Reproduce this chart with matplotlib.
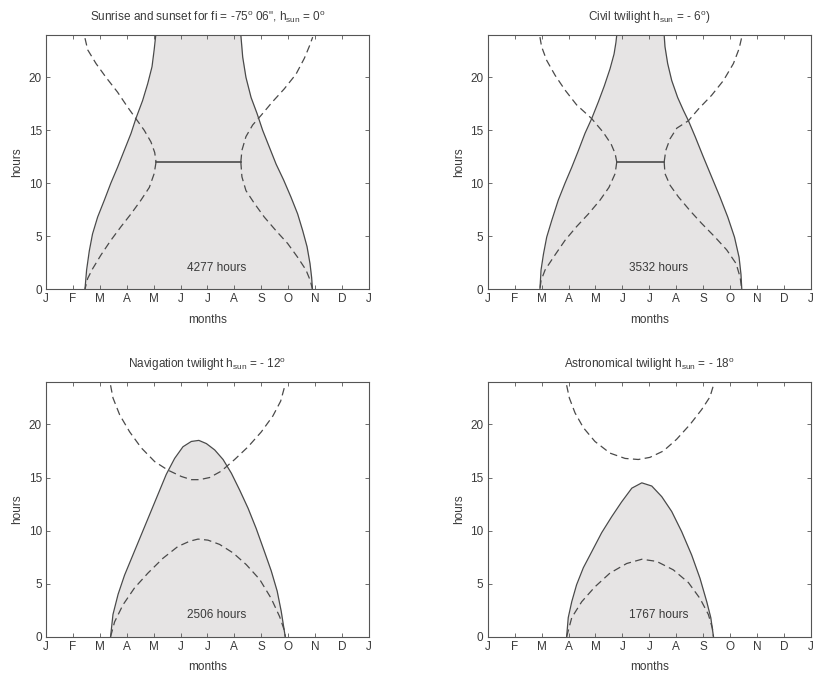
import numpy as np
import matplotlib
matplotlib.use("Agg")
import matplotlib.pyplot as plt

plt.rcParams['font.family'] = ['Liberation Sans', 'DejaVu Sans']
plt.rcParams['font.size'] = 8.5
plt.rcParams['mathtext.fontset'] = 'custom'
plt.rcParams['mathtext.rm'] = 'Liberation Sans'

month_labels = ['J', 'F', 'M', 'A', 'M', 'J', 'J', 'A', 'S', 'O', 'N', 'D', 'J']

# Panel 1: h_sun = 0  (x in months from 1 Jan, y in hours)
p1_title = 'Sunrise and sunset for fi = -75$^\\mathrm{o}$ 06", h$_\\mathrm{sun}$ = 0$^\\mathrm{o}$'
p1_total = '4277 hours'
p1_day_x = [1.45, 1.51, 1.61, 1.73, 1.92, 2.17, 2.41, 2.66, 2.91, 3.16, 3.34, 3.59, 3.78, 3.94, 4.02, 4.08,
            7.24, 7.31, 7.43, 7.62, 7.84, 8.05, 8.30, 8.55, 8.83, 9.10, 9.35, 9.54, 9.70, 9.81, 9.87, 9.90]
p1_day_y = [0, 1.8, 3.6, 5.2, 6.8, 8.4, 10.0, 11.5, 13.1, 14.7, 16.1, 17.8, 19.4, 21.0, 22.6, 24,
            24, 21.9, 20.0, 18.1, 16.6, 15.0, 13.4, 11.8, 10.3, 8.7, 7.1, 5.5, 4.0, 2.4, 1.1, 0]
p1_set_x = [1.45, 1.55, 1.86, 2.23, 2.66, 3.03, 3.34, 3.65, 3.90, 4.04, 4.09]
p1_set_y = [23.7, 22.6, 21.3, 20.0, 18.6, 17.2, 16.1, 15.0, 13.9, 12.9, 12.0]
p1_rise_x = [4.09, 4.02, 3.84, 3.53, 3.16, 2.79, 2.41, 2.04, 1.73, 1.55, 1.45]
p1_rise_y = [12.0, 10.9, 9.6, 8.4, 7.1, 5.9, 4.6, 3.2, 1.9, 1.0, 0]
p1_set2_x = [7.24, 7.28, 7.43, 7.68, 7.99, 8.42, 8.85, 9.29, 9.60, 9.78, 9.91]
p1_set2_y = [12.0, 13.1, 14.4, 15.5, 16.4, 17.7, 18.9, 20.3, 21.8, 22.9, 23.8]
p1_rise2_x = [7.24, 7.28, 7.43, 7.74, 8.11, 8.55, 8.98, 9.35, 9.66, 9.82, 9.90]
p1_rise2_y = [12.0, 10.6, 9.3, 8.1, 6.8, 5.5, 4.3, 3.0, 1.8, 0.8, 0]
p1_flat_x = [4.09, 7.24]
p1_flat_y = [12, 12]

# Panel 2: civil twilight
p2_title = 'Civil twilight h$_\\mathrm{sun}$ = - 6$^\\mathrm{o}$)'
p2_total = '3532 hours'
p2_day_x = [1.94, 1.98, 2.07, 2.19, 2.38, 2.62, 2.87, 3.12, 3.37, 3.61, 3.86, 4.11, 4.33, 4.54, 4.69, 4.76, 4.79,
            6.55, 6.58, 6.68, 6.83, 7.05, 7.26, 7.45, 7.70, 8.00, 8.31, 8.62, 8.91, 9.16, 9.33, 9.40, 9.43]
p2_day_y = [0, 1.8, 3.3, 4.9, 6.5, 8.4, 10.0, 11.5, 13.1, 14.7, 16.1, 17.7, 19.2, 20.8, 22.2, 23.3, 24,
            24, 22.9, 21.3, 19.7, 18.1, 16.9, 15.9, 14.4, 12.5, 10.6, 8.7, 6.8, 4.9, 3.0, 1.4, 0]
p2_set_x = [1.94, 2.00, 2.19, 2.50, 2.87, 3.30, 3.86, 4.29, 4.58, 4.73, 4.79]
p2_set_y = [23.8, 22.9, 21.6, 20.2, 18.8, 17.4, 16.1, 14.8, 13.7, 12.8, 12.0]
p2_rise_x = [4.79, 4.73, 4.50, 4.17, 3.74, 3.30, 2.87, 2.44, 2.13, 1.98, 1.94]
p2_rise_y = [12.0, 10.9, 9.6, 8.4, 7.1, 5.9, 4.6, 3.0, 1.8, 0.8, 0]
p2_set2_x = [6.55, 6.61, 6.77, 7.02, 7.45, 7.82, 8.31, 8.75, 9.12, 9.33, 9.43]
p2_set2_y = [12.0, 13.1, 14.2, 15.2, 15.9, 17.0, 18.3, 19.7, 21.3, 22.7, 23.8]
p2_rise2_x = [6.55, 6.58, 6.77, 7.08, 7.51, 7.94, 8.44, 8.87, 9.22, 9.37, 9.43]
p2_rise2_y = [12.0, 10.9, 9.8, 8.7, 7.4, 6.2, 4.9, 3.7, 2.4, 1.1, 0]
p2_flat_x = [4.79, 6.55]
p2_flat_y = [12, 12]

# Panel 3: navigation twilight
p3_title = 'Navigation twilight h$_\\mathrm{sun}$ = - 12$^\\mathrm{o}$'
p3_total = '2506 hours'
p3_day_x = [2.40, 2.49, 2.68, 2.92, 3.23, 3.54, 3.85, 4.16, 4.47, 4.78, 5.09, 5.40, 5.68,
            5.96, 6.27, 6.58, 6.89, 7.20, 7.51, 7.81, 8.12, 8.37, 8.59, 8.74, 8.84, 8.89]
p3_day_y = [0, 2.1, 4.0, 5.8, 7.7, 9.6, 11.5, 13.4, 15.3, 16.8, 17.9, 18.4, 18.5,
            18.2, 17.6, 16.7, 15.4, 13.8, 12.1, 10.2, 8.0, 6.2, 4.3, 2.4, 0.8, 0]
p3_up_x = [2.40, 2.49, 2.74, 3.11, 3.54, 4.04, 4.53, 5.03, 5.40, 5.71,
           6.08, 6.51, 7.01, 7.51, 8.00, 8.43, 8.72, 8.87]
p3_up_y = [23.7, 22.5, 20.9, 19.3, 17.8, 16.5, 15.7, 15.1, 14.8, 14.8,
           15.0, 15.6, 16.7, 17.9, 19.3, 20.8, 22.2, 23.6]
p3_lo_x = [2.40, 2.55, 2.86, 3.29, 3.79, 4.35, 4.90, 5.34, 5.65,
           6.02, 6.45, 6.95, 7.44, 7.94, 8.37, 8.68, 8.87, 8.89]
p3_lo_y = [0, 1.4, 3.0, 4.6, 6.0, 7.4, 8.5, 9.0, 9.2,
           9.1, 8.7, 7.9, 6.8, 5.4, 3.6, 1.9, 0.5, 0]

# Panel 4: astronomical twilight
p4_title = 'Astronomical twilight h$_\\mathrm{sun}$ = - 18$^\\mathrm{o}$'
p4_total = '1767 hours'
p4_day_x = [2.93, 2.99, 3.12, 3.30, 3.55, 3.86, 4.23, 4.60, 4.97, 5.35, 5.72,
            6.09, 6.46, 6.83, 7.20, 7.57, 7.88, 8.13, 8.28, 8.38]
p4_day_y = [0, 1.8, 3.3, 4.9, 6.5, 8.0, 9.8, 11.3, 12.7, 14.0, 14.5,
            14.2, 13.2, 11.8, 9.9, 7.7, 5.5, 3.3, 1.8, 0]
p4_up_x = [2.93, 3.03, 3.24, 3.55, 3.98, 4.54, 5.10, 5.59, 6.02, 6.52, 7.01, 7.51, 7.94, 8.25, 8.38]
p4_up_y = [23.7, 22.5, 21.1, 19.7, 18.4, 17.3, 16.8, 16.7, 16.9, 17.5, 18.6, 20.0, 21.4, 22.6, 23.7]
p4_lo_x = [2.93, 3.12, 3.49, 3.98, 4.54, 5.16, 5.72, 6.27, 6.89, 7.45, 7.88, 8.19, 8.34, 8.38]
p4_lo_y = [0, 1.8, 3.3, 4.7, 6.0, 6.9, 7.3, 7.1, 6.3, 5.1, 3.6, 2.1, 0.8, 0]

fill_col = '#e6e4e4'
line_col = '#4a4a4a'
text_col = '#3a3a3a'
dash = (0, (6, 3.5))

fig = plt.figure(figsize=(8.15, 6.77), dpi=100)
pos = [[0.0564, 0.5731, 0.3963, 0.3752],
       [0.5984, 0.5731, 0.3967, 0.3752],
       [0.0564, 0.0595, 0.3963, 0.3762],
       [0.5984, 0.0595, 0.3967, 0.3762]]

panels = [
    (p1_title, p1_total, p1_day_x, p1_day_y,
     [(p1_set_x, p1_set_y), (p1_rise_x, p1_rise_y), (p1_set2_x, p1_set2_y), (p1_rise2_x, p1_rise2_y)],
     (p1_flat_x, p1_flat_y)),
    (p2_title, p2_total, p2_day_x, p2_day_y,
     [(p2_set_x, p2_set_y), (p2_rise_x, p2_rise_y), (p2_set2_x, p2_set2_y), (p2_rise2_x, p2_rise2_y)],
     (p2_flat_x, p2_flat_y)),
    (p3_title, p3_total, p3_day_x, p3_day_y,
     [(p3_up_x, p3_up_y), (p3_lo_x, p3_lo_y)], None),
    (p4_title, p4_total, p4_day_x, p4_day_y,
     [(p4_up_x, p4_up_y), (p4_lo_x, p4_lo_y)], None),
]

for p, (title, total, dx, dy, dashed, flat) in zip(pos, panels):
    ax = fig.add_axes(p)
    ax.fill_between(dx, 0, dy, color=fill_col, lw=0)
    ax.plot(dx, dy, color=line_col, lw=0.9)
    for xs, ys in dashed:
        ax.plot(xs, ys, color=line_col, lw=0.9, linestyle=dash)
    if flat is not None:
        ax.plot(flat[0], flat[1], color=line_col, lw=1.2)
    ax.text(6.35, 2.0, total, ha='center', va='center', color=text_col, fontsize=8.5)
    ax.set_xlim(0, 12)
    ax.set_ylim(0, 24)
    ax.set_xticks(range(13))
    ax.set_xticklabels(month_labels)
    ax.set_yticks([0, 5, 10, 15, 20])
    ax.tick_params(direction='in', top=True, right=True, length=3, width=0.6,
                   colors='#555555', labelcolor=text_col, labelsize=8.5, pad=3)
    for s in ax.spines.values():
        s.set_color('#555555')
        s.set_linewidth(0.8)
    ax.set_xlabel('months', color=text_col, fontsize=8.5, labelpad=6)
    ax.set_ylabel('hours', color=text_col, fontsize=8.5, labelpad=4)
    ax.set_title(title, color=text_col, fontsize=8.5, pad=10)

fig.savefig('out.png', dpi=100)
